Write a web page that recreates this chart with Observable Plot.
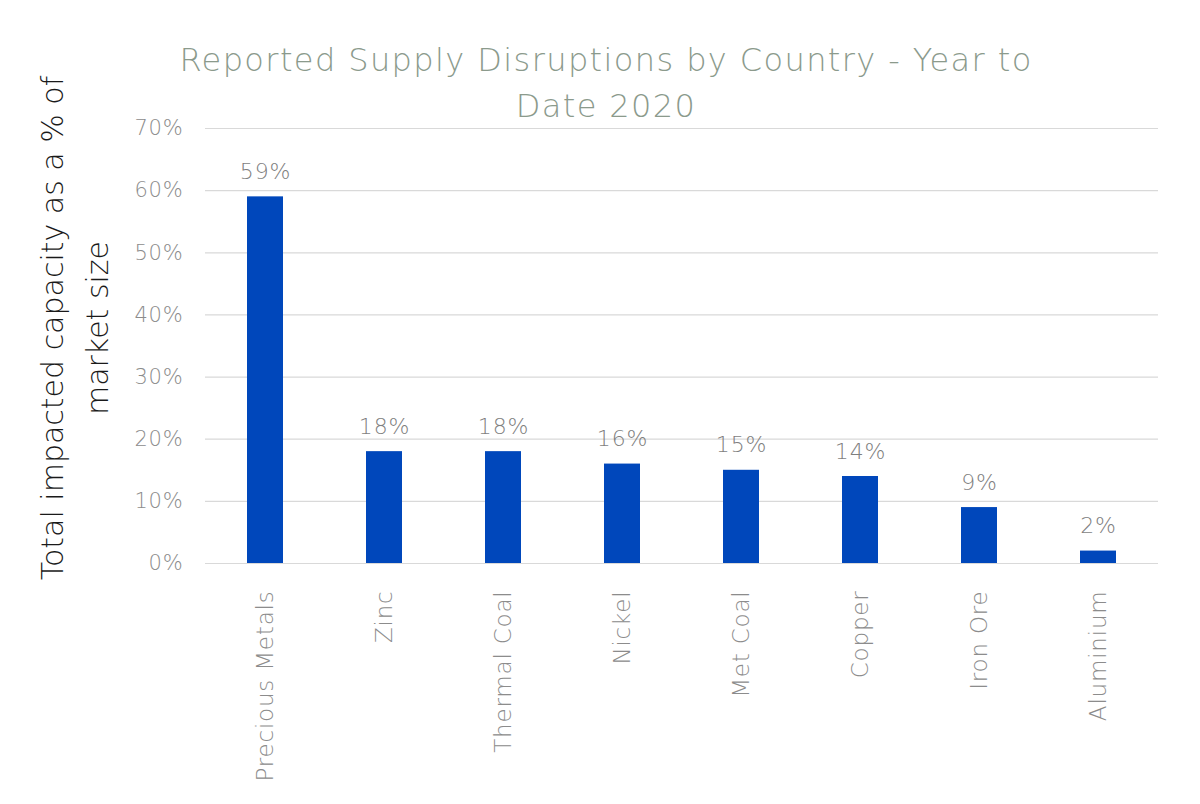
<!DOCTYPE html>
<html>
<head>
<meta charset="utf-8">
<script src="https://cdn.jsdelivr.net/npm/d3@7"></script>
<script src="https://cdn.jsdelivr.net/npm/@observablehq/plot@0.6"></script>
<style>
  html, body { margin: 0; padding: 0; background: #fff; }
  #wrap { position: relative; width: 1200px; height: 804px; font-family: "DejaVu Sans", sans-serif; background: #fff; }
  #title { position: absolute; left: 0; top: 37px; width: 1212px; text-align: center; font-size: 32px; line-height: 46px; color: #8b9a8c; font-weight: 200; letter-spacing: 1.4px; z-index: 2; }
  #ylab { position: absolute; left: 75px; top: 328px; transform: translate(-50%, -50%) rotate(-90deg); white-space: nowrap; text-align: center; font-size: 30px; line-height: 45px; color: #1a1a1a; font-weight: 300; letter-spacing: 0px; z-index: 2; }
  #chart { position: absolute; left: 0; top: 118px; z-index: 1; }
  #chart svg { overflow: visible; }
  #chart svg text { letter-spacing: 0.8px; }
</style>
</head>
<body>
<div id="wrap">
  <div id="title">Reported Supply Disruptions by Country - Year to<br>Date 2020</div>
  <div id="ylab">Total impacted capacity as a % of<br>market size</div>
  <div id="chart"></div>
</div>
<script>
const categories = ["Precious Metals", "Zinc", "Thermal Coal", "Nickel", "Met Coal", "Copper", "Iron Ore", "Aluminium"];
const values = [59, 18, 18, 16, 15, 14, 9, 2];
const yTicks = [0, 10, 20, 30, 40, 50, 60, 70];

const data = categories.map((c, i) => ({category: c, value: values[i]}));

const plot = Plot.plot({
  width: 1200,
  height: 686,
  marginTop: 10,
  marginBottom: 241,
  marginLeft: 205,
  marginRight: 42,
  style: {fontFamily: "'DejaVu Sans', sans-serif", background: "transparent"},
  x: {domain: categories, paddingInner: 0.7, paddingOuter: 0.35, label: null},
  y: {domain: [0, 70], label: null},
  marks: [
    Plot.gridY(yTicks, {stroke: "#d9d9d9", strokeOpacity: 1, strokeWidth: 1.2}),
    Plot.barY(data, {x: "category", y: "value", fill: "#0047bb"}),
    Plot.text(data, {x: "category", y: "value", text: d => d.value + "%", dy: -18, lineAnchor: "bottom", fontSize: 22, fill: "#7f7f7f", fontWeight: 300}),
    Plot.axisY(yTicks, {tickSize: 0, tickPadding: 22, tickFormat: d => d + "%", fontSize: 21, color: "#8c8c8c", fontWeight: 300, label: null}),
    Plot.axisX({tickSize: 0, tickPadding: 27, tickRotate: -90, fontSize: 23, color: "#8c8c8c", fontWeight: 300, label: null})
  ]
});
document.getElementById("chart").appendChild(plot);
</script>
</body>
</html>
